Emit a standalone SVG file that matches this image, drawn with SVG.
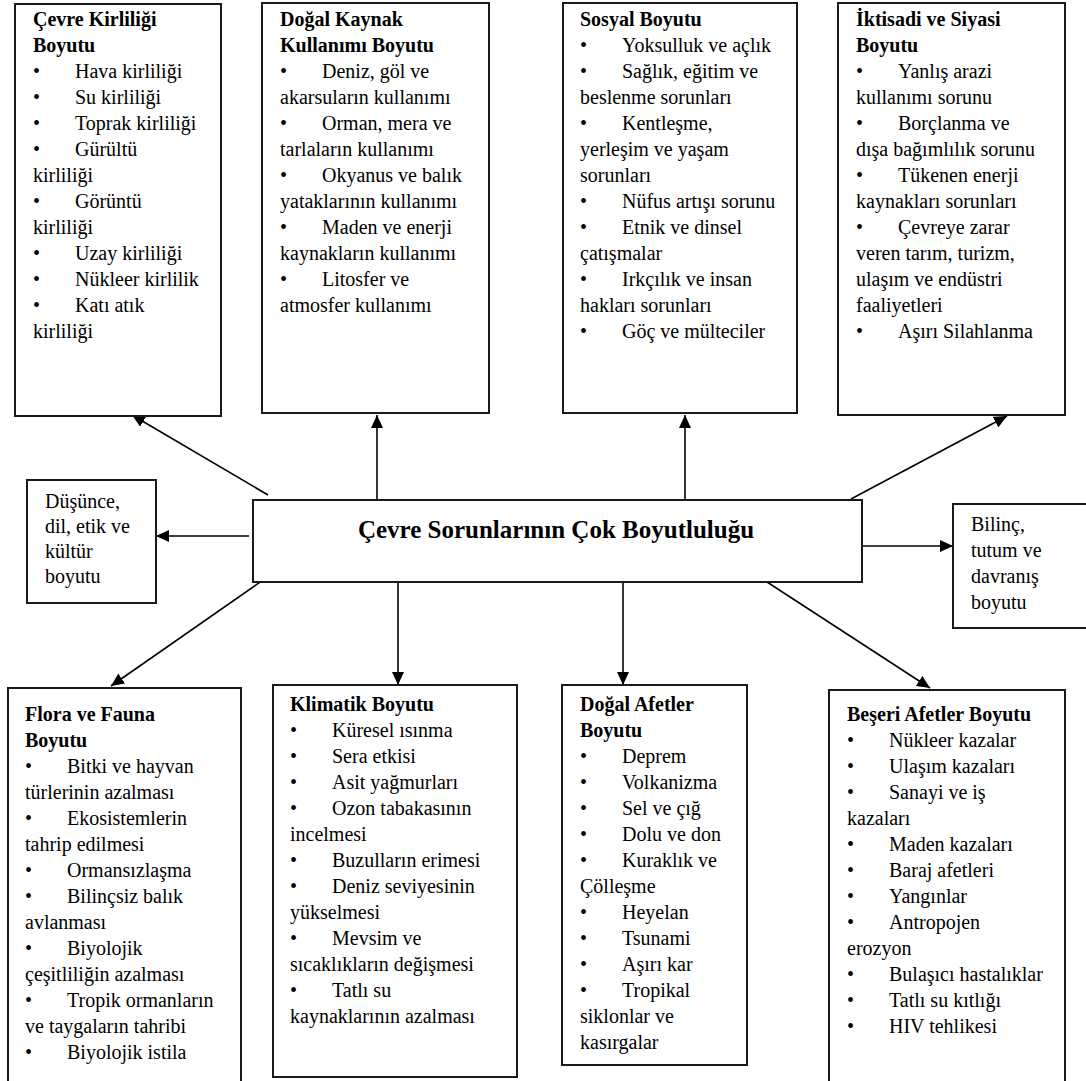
<svg xmlns="http://www.w3.org/2000/svg" width="1086" height="1081" viewBox="0 0 1086 1081">
<defs>
<marker id="ah" markerUnits="userSpaceOnUse" markerWidth="14" markerHeight="12" refX="13" refY="6" orient="auto">
<path d="M0,0 L13,6 L0,12 z" fill="#000"/>
</marker>
<style>
.box{fill:#fff;stroke:#1a1a1a;stroke-width:2}
text{font-family:"Liberation Serif","Times New Roman",serif;font-size:20px;fill:#000}
.b{font-weight:bold}
.main{font-size:25px;font-weight:bold}
.conn line{stroke:#000;stroke-width:1.6;marker-end:url(#ah)}
</style>
</defs>
<rect width="1086" height="1081" fill="#fff"/>

<g id="connectors" class="conn">
<line x1="268" y1="495" x2="132" y2="415"/>
<line x1="377" y1="500" x2="377" y2="415"/>
<line x1="685" y1="500" x2="685" y2="415"/>
<line x1="851" y1="499" x2="1007" y2="416"/>
<line x1="249" y1="536" x2="156" y2="536"/>
<line x1="849" y1="546" x2="953" y2="546"/>
<line x1="266" y1="578" x2="111" y2="686"/>
<line x1="398" y1="582" x2="398" y2="685"/>
<line x1="623" y1="582" x2="623" y2="685"/>
<line x1="767" y1="582" x2="930" y2="688"/>
</g>

<g id="center">
<rect class="box" x="253" y="500" width="609" height="82"/>
<text class="main" x="556" y="538" text-anchor="middle">Çevre Sorunlarının Çok Boyutluluğu</text>
</g>

<g id="cevre-kirliligi">
<rect class="box" x="15" y="4" width="206" height="412"/>
<text class="b" x="33" y="26">Çevre Kirliliği</text>
<text class="b" x="33" y="52">Boyutu</text>
<text y="78"><tspan x="33">•</tspan><tspan x="75">Hava kirliliği</tspan></text>
<text y="104"><tspan x="33">•</tspan><tspan x="75">Su kirliliği</tspan></text>
<text y="130"><tspan x="33">•</tspan><tspan x="75">Toprak kirliliği</tspan></text>
<text y="156"><tspan x="33">•</tspan><tspan x="75">Gürültü</tspan></text>
<text x="33" y="182">kirliliği</text>
<text y="208"><tspan x="33">•</tspan><tspan x="75">Görüntü</tspan></text>
<text x="33" y="234">kirliliği</text>
<text y="260"><tspan x="33">•</tspan><tspan x="75">Uzay kirliliği</tspan></text>
<text y="286"><tspan x="33">•</tspan><tspan x="75">Nükleer kirlilik</tspan></text>
<text y="312"><tspan x="33">•</tspan><tspan x="75">Katı atık</tspan></text>
<text x="33" y="338">kirliliği</text>
</g>

<g id="dogal-kaynak">
<rect class="box" x="262" y="3" width="227" height="410"/>
<text class="b" x="280" y="26">Doğal Kaynak</text>
<text class="b" x="280" y="52">Kullanımı Boyutu</text>
<text y="78"><tspan x="280">•</tspan><tspan x="322">Deniz, göl ve</tspan></text>
<text x="280" y="104">akarsuların kullanımı</text>
<text y="130"><tspan x="280">•</tspan><tspan x="322">Orman, mera ve</tspan></text>
<text x="280" y="156">tarlaların kullanımı</text>
<text y="182"><tspan x="280">•</tspan><tspan x="322">Okyanus ve balık</tspan></text>
<text x="280" y="208">yataklarının kullanımı</text>
<text y="234"><tspan x="280">•</tspan><tspan x="322">Maden ve enerji</tspan></text>
<text x="280" y="260">kaynakların kullanımı</text>
<text y="286"><tspan x="280">•</tspan><tspan x="322">Litosfer ve</tspan></text>
<text x="280" y="312">atmosfer kullanımı</text>
</g>

<g id="sosyal">
<rect class="box" x="563" y="3" width="234" height="410"/>
<text class="b" x="580" y="26">Sosyal Boyutu</text>
<text y="52"><tspan x="580">•</tspan><tspan x="622">Yoksulluk ve açlık</tspan></text>
<text y="78"><tspan x="580">•</tspan><tspan x="622">Sağlık, eğitim ve</tspan></text>
<text x="580" y="104">beslenme sorunları</text>
<text y="130"><tspan x="580">•</tspan><tspan x="622">Kentleşme,</tspan></text>
<text x="580" y="156">yerleşim ve yaşam</text>
<text x="580" y="182">sorunları</text>
<text y="208"><tspan x="580">•</tspan><tspan x="622">Nüfus artışı sorunu</tspan></text>
<text y="234"><tspan x="580">•</tspan><tspan x="622">Etnik ve dinsel</tspan></text>
<text x="580" y="260">çatışmalar</text>
<text y="286"><tspan x="580">•</tspan><tspan x="622">Irkçılık ve insan</tspan></text>
<text x="580" y="312">hakları sorunları</text>
<text y="338"><tspan x="580">•</tspan><tspan x="622">Göç ve mülteciler</tspan></text>
</g>

<g id="iktisadi">
<rect class="box" x="838" y="3" width="227" height="412"/>
<text class="b" x="856" y="26">İktisadi ve Siyasi</text>
<text class="b" x="856" y="52">Boyutu</text>
<text y="78"><tspan x="856">•</tspan><tspan x="898">Yanlış arazi</tspan></text>
<text x="856" y="104">kullanımı sorunu</text>
<text y="130"><tspan x="856">•</tspan><tspan x="898">Borçlanma ve</tspan></text>
<text x="856" y="156">dışa bağımlılık sorunu</text>
<text y="182"><tspan x="856">•</tspan><tspan x="898">Tükenen enerji</tspan></text>
<text x="856" y="208">kaynakları sorunları</text>
<text y="234"><tspan x="856">•</tspan><tspan x="898">Çevreye zarar</tspan></text>
<text x="856" y="260">veren tarım, turizm,</text>
<text x="856" y="286">ulaşım ve endüstri</text>
<text x="856" y="312">faaliyetleri</text>
<text y="338"><tspan x="856">•</tspan><tspan x="898">Aşırı Silahlanma</tspan></text>
</g>

<g id="dusunce">
<rect class="box" x="27" y="480" width="129" height="123"/>
<text x="45" y="508">Düşünce,</text>
<text x="45" y="533">dil, etik ve</text>
<text x="45" y="558">kültür</text>
<text x="45" y="583">boyutu</text>
</g>

<g id="bilinc">
<rect class="box" x="953" y="504" width="140" height="124"/>
<text x="971" y="531">Bilinç,</text>
<text x="971" y="557">tutum ve</text>
<text x="971" y="583">davranış</text>
<text x="971" y="609">boyutu</text>
</g>

<g id="flora-fauna">
<rect class="box" x="8" y="688" width="233" height="400"/>
<text class="b" x="25" y="721">Flora ve Fauna</text>
<text class="b" x="25" y="747">Boyutu</text>
<text y="773"><tspan x="25">•</tspan><tspan x="67">Bitki ve hayvan</tspan></text>
<text x="25" y="799">türlerinin azalması</text>
<text y="825"><tspan x="25">•</tspan><tspan x="67">Ekosistemlerin</tspan></text>
<text x="25" y="851">tahrip edilmesi</text>
<text y="877"><tspan x="25">•</tspan><tspan x="67">Ormansızlaşma</tspan></text>
<text y="903"><tspan x="25">•</tspan><tspan x="67">Bilinçsiz balık</tspan></text>
<text x="25" y="929">avlanması</text>
<text y="955"><tspan x="25">•</tspan><tspan x="67">Biyolojik</tspan></text>
<text x="25" y="981">çeşitliliğin azalması</text>
<text y="1007"><tspan x="25">•</tspan><tspan x="67">Tropik ormanların</tspan></text>
<text x="25" y="1033">ve taygaların tahribi</text>
<text y="1059"><tspan x="25">•</tspan><tspan x="67">Biyolojik istila</tspan></text>
</g>

<g id="klimatik">
<rect class="box" x="273" y="685" width="244" height="392"/>
<text class="b" x="290" y="711">Klimatik Boyutu</text>
<text y="737"><tspan x="290">•</tspan><tspan x="332">Küresel ısınma</tspan></text>
<text y="763"><tspan x="290">•</tspan><tspan x="332">Sera etkisi</tspan></text>
<text y="789"><tspan x="290">•</tspan><tspan x="332">Asit yağmurları</tspan></text>
<text y="815"><tspan x="290">•</tspan><tspan x="332">Ozon tabakasının</tspan></text>
<text x="290" y="841">incelmesi</text>
<text y="867"><tspan x="290">•</tspan><tspan x="332">Buzulların erimesi</tspan></text>
<text y="893"><tspan x="290">•</tspan><tspan x="332">Deniz seviyesinin</tspan></text>
<text x="290" y="919">yükselmesi</text>
<text y="945"><tspan x="290">•</tspan><tspan x="332">Mevsim ve</tspan></text>
<text x="290" y="971">sıcaklıkların değişmesi</text>
<text y="997"><tspan x="290">•</tspan><tspan x="332">Tatlı su</tspan></text>
<text x="290" y="1023">kaynaklarının azalması</text>
</g>

<g id="dogal-afetler">
<rect class="box" x="562" y="685" width="185" height="380"/>
<text class="b" x="580" y="711">Doğal Afetler</text>
<text class="b" x="580" y="737">Boyutu</text>
<text y="763"><tspan x="580">•</tspan><tspan x="622">Deprem</tspan></text>
<text y="789"><tspan x="580">•</tspan><tspan x="622">Volkanizma</tspan></text>
<text y="815"><tspan x="580">•</tspan><tspan x="622">Sel ve çığ</tspan></text>
<text y="841"><tspan x="580">•</tspan><tspan x="622">Dolu ve don</tspan></text>
<text y="867"><tspan x="580">•</tspan><tspan x="622">Kuraklık ve</tspan></text>
<text x="580" y="893">Çölleşme</text>
<text y="919"><tspan x="580">•</tspan><tspan x="622">Heyelan</tspan></text>
<text y="945"><tspan x="580">•</tspan><tspan x="622">Tsunami</tspan></text>
<text y="971"><tspan x="580">•</tspan><tspan x="622">Aşırı kar</tspan></text>
<text y="997"><tspan x="580">•</tspan><tspan x="622">Tropikal</tspan></text>
<text x="580" y="1023">siklonlar ve</text>
<text x="580" y="1049">kasırgalar</text>
</g>

<g id="beseri-afetler">
<rect class="box" x="829" y="690" width="236" height="400"/>
<text class="b" x="847" y="721">Beşeri Afetler Boyutu</text>
<text y="747"><tspan x="847">•</tspan><tspan x="889">Nükleer kazalar</tspan></text>
<text y="773"><tspan x="847">•</tspan><tspan x="889">Ulaşım kazaları</tspan></text>
<text y="799"><tspan x="847">•</tspan><tspan x="889">Sanayi ve iş</tspan></text>
<text x="847" y="825">kazaları</text>
<text y="851"><tspan x="847">•</tspan><tspan x="889">Maden kazaları</tspan></text>
<text y="877"><tspan x="847">•</tspan><tspan x="889">Baraj afetleri</tspan></text>
<text y="903"><tspan x="847">•</tspan><tspan x="889">Yangınlar</tspan></text>
<text y="929"><tspan x="847">•</tspan><tspan x="889">Antropojen</tspan></text>
<text x="847" y="955">erozyon</text>
<text y="981"><tspan x="847">•</tspan><tspan x="889">Bulaşıcı hastalıklar</tspan></text>
<text y="1007"><tspan x="847">•</tspan><tspan x="889">Tatlı su kıtlığı</tspan></text>
<text y="1033"><tspan x="847">•</tspan><tspan x="889">HIV tehlikesi</tspan></text>
</g>
</svg>
